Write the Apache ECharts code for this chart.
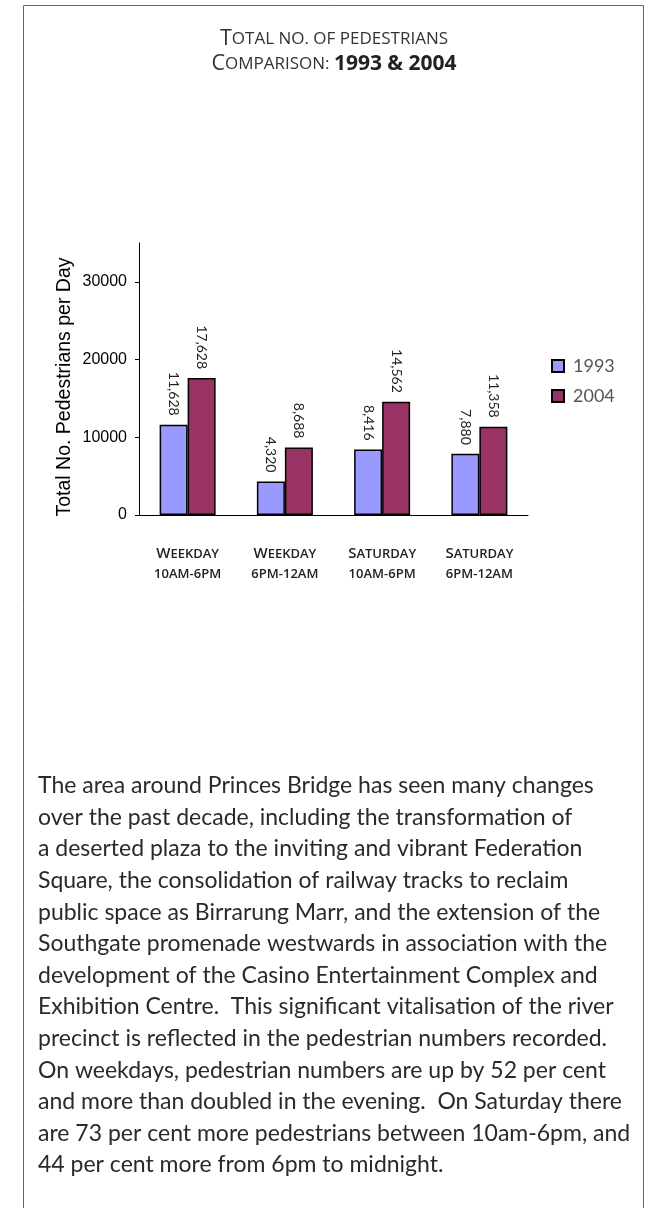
<!DOCTYPE html>
<html>
<head>
<meta charset="utf-8">
<script src="https://cdn.jsdelivr.net/npm/echarts@6/dist/echarts.min.js"></script>
<style>
html, body { margin: 0; padding: 0; background: #fff; }
#chart { width: 650px; height: 1208px; }
</style>
</head>
<body>
<div id="chart"></div>
<script>
// chart data
var categories = ['Weekday\n10am-6pm', 'Weekday\n6pm-12am', 'Saturday\n10am-6pm', 'Saturday\n6pm-12am'];
var values1993 = [11628, 4320, 8416, 7880];
var values2004 = [17628, 8688, 14562, 11358];
var yTicks = [0, 10000, 20000, 30000];
var seriesNames = ['1993', '2004'];

var titleLine1 = 'Total no. of pedestrians';
var titleLine2 = 'Comparison:';
var titleYears = '1993 & 2004';
var paragraphLines = [
    'The area around Princes Bridge has seen many changes',
    'over the past decade, including the transformation of',
    'a deserted plaza to the inviting and vibrant Federation',
    'Square, the consolidation of railway tracks to reclaim',
    'public space as Birrarung Marr, and the extension of the',
    'Southgate promenade westwards in association with the',
    'development of the Casino Entertainment Complex and',
    'Exhibition Centre.  This significant vitalisation of the river',
    'precinct is reflected in the pedestrian numbers recorded.',
    'On weekdays, pedestrian numbers are up by 52 per cent',
    'and more than doubled in the evening.  On Saturday there',
    'are 73 per cent more pedestrians between 10am-6pm, and',
    '44 per cent more from 6pm to midnight.'
];

// fake small caps with two rich styles: c = real capitals, s = lowered ones
function smallCaps(str) {
    var out = '';
    var buf = '';
    var bufCap = null;
    function flush() {
        if (buf) {
            out += '{' + (bufCap ? 'c' : 's') + '|' + buf.toUpperCase() + '}';
        }
        buf = '';
    }
    for (var i = 0; i < str.length; i++) {
        var ch = str[i];
        var isCap = ch !== ch.toLowerCase() && ch === ch.toUpperCase();
        if (bufCap !== null && isCap !== bufCap) {
            flush();
        }
        bufCap = isCap;
        buf += ch;
    }
    flush();
    return out;
}

var sansFont = 'Open Sans';
var bodyFont = 'Lato';

var chart = echarts.init(document.getElementById('chart'));

var barLabel = {
    show: true,
    position: 'top',
    rotate: -90,
    align: 'right',
    verticalAlign: 'middle',
    distance: 9,
    fontFamily: bodyFont,
    fontSize: 14,
    color: '#222',
    formatter: function(p) { return p.value.toLocaleString('en-US'); }
};

var option = {
    animation: false,
    grid: {
        left: 139,
        right: 122,
        top: 243,
        bottom: 693,
        containLabel: false
    },
    legend: {
        data: seriesNames,
        orient: 'vertical',
        left: 551,
        top: 357,
        padding: 0,
        itemWidth: 12,
        itemHeight: 12,
        itemGap: 12,
        icon: 'rect',
        textStyle: {
            fontFamily: bodyFont,
            fontSize: 18,
            lineHeight: 18,
            color: '#555',
            padding: [0, 0, 0, 4]
        }
    },
    xAxis: {
        type: 'category',
        data: categories,
        axisLine: { lineStyle: { color: '#000', width: 1 } },
        axisTick: { length: 4, lineStyle: { color: '#000' } },
        axisLabel: {
            margin: 29,
            interval: 0,
            color: '#222',
            formatter: function(v) {
                return v.split('\n').map(smallCaps).join('\n');
            },
            rich: {
                c: { fontFamily: sansFont, fontSize: 15, fontWeight: 600, lineHeight: 20, color: '#222' },
                s: { fontFamily: sansFont, fontSize: 13, fontWeight: 600, lineHeight: 20, color: '#222' }
            }
        }
    },
    yAxis: {
        type: 'value',
        min: 0,
        max: 35000,
        interval: 10000,
        name: 'Total No. Pedestrians per Day',
        nameLocation: 'middle',
        nameGap: 64,
        nameMoveOverlap: false,
        nameRotate: 90,
        nameTextStyle: {
            fontFamily: 'Liberation Sans',
            fontSize: 19.5,
            color: '#000',
            padding: [0, 16, 0, 0]
        },
        axisLine: { show: true, lineStyle: { color: '#000', width: 1 } },
        axisTick: { show: true, length: 4, customValues: yTicks, lineStyle: { color: '#000' } },
        axisLabel: {
            customValues: yTicks,
            margin: 12,
            fontFamily: 'Liberation Sans',
            fontSize: 16,
            color: '#000',
            formatter: function(v) { return String(v); }
        },
        splitLine: { show: false }
    },
    series: [
        {
            name: seriesNames[0],
            type: 'bar',
            data: values1993,
            barWidth: 28,
            barGap: '0%',
            itemStyle: { color: '#9999FF', borderColor: '#000', borderWidth: 1.5 },
            label: barLabel
        },
        {
            name: seriesNames[1],
            type: 'bar',
            data: values2004,
            barWidth: 28,
            barGap: '0%',
            itemStyle: { color: '#993366', borderColor: '#000', borderWidth: 1.5 },
            label: barLabel
        }
    ],
    graphic: [
        {
            type: 'rect',
            silent: true,
            z: -10,
            shape: { x: 23.5, y: 5.5, width: 620, height: 1300 },
            style: { fill: 'none', stroke: '#666', lineWidth: 1 }
        },
        {
            type: 'text',
            x: 334,
            y: 27,
            style: {
                text: smallCaps(titleLine1) + '\n' + smallCaps(titleLine2) + '{sp| }{b|' + titleYears + '}',
                align: 'center',
                verticalAlign: 'top',
                fill: '#333',
                fontFamily: sansFont,
                fontSize: 17,
                lineHeight: 24.5,
                rich: {
                    c: { fontFamily: sansFont, fontSize: 21.5, lineHeight: 24.5, fill: '#333' },
                    s: { fontFamily: sansFont, fontSize: 17, lineHeight: 24.5, fill: '#333' },
                    sp: { fontFamily: sansFont, fontSize: 17, lineHeight: 24.5 },
                    b: { fontFamily: sansFont, fontSize: 21, fontWeight: 'bold', lineHeight: 24.5, fill: '#222' }
                }
            }
        },
        {
            type: 'text',
            x: 38,
            y: 770,
            style: {
                text: paragraphLines.join('\n'),
                fontFamily: bodyFont,
                fontSize: 23,
                lineHeight: 31.6,
                fill: '#2a2a2a'
            }
        }
    ]
};

chart.setOption(option);
window.addEventListener('resize', function() { chart.resize(); });
</script>
</body>
</html>
